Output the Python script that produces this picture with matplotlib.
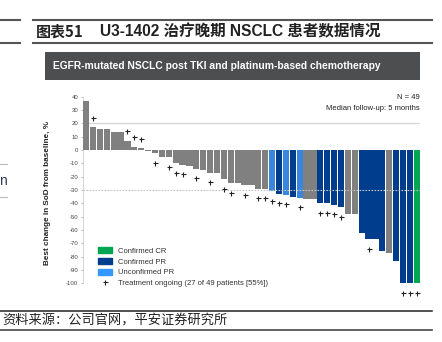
import matplotlib
matplotlib.use("Agg")
import matplotlib.pyplot as plt
from matplotlib.lines import Line2D
from matplotlib.patches import Patch, Rectangle

plt.rcParams.update({
    "font.family": ["Liberation Sans", "Noto Sans CJK SC", "DejaVu Sans"],
    "axes.unicode_minus": False,
})

# Best change in sum of diameters (%) per patient, sorted
best_change = [37, 17, 15.5, 15.5, 13.5, 13.5, 7, 2.5, 1.5, -1,
               -2.5, -5.5, -5.5, -10, -11, -12, -14, -15, -17, -17,
               -22, -25, -25, -26.5, -26.5, -29, -29, -31, -33, -33.5,
               -35, -36, -36.5, -36.5, -40, -40, -41, -43, -48, -48,
               -62, -67, -67, -76, -77, -83, -100, -100, -100]
# G = no confirmed response, PR = confirmed PR, UPR = unconfirmed PR, CR = confirmed CR
response = ["G"] * 27 + ["UPR", "PR", "UPR", "PR", "UPR", "G", "G",
            "PR", "PR", "PR", "PR", "G", "G", "PR", "PR", "PR", "PR", "G",
            "PR", "PR", "PR", "CR"]
# 1-based patient positions still on treatment
ongoing = [2, 7, 8, 9, 11, 13, 14, 15, 17, 19, 21, 22, 24, 26, 27, 28,
           29, 30, 32, 35, 36, 37, 38, 42, 47, 48, 49]
yticks = list(range(40, -101, -10))

COLORS = {"G": "#808080", "PR": "#003d8c", "UPR": "#3a86dc", "CR": "#00a651"}
INK = "#222222"

fig = plt.figure(figsize=(4.42, 3.42), dpi=100)
W, H = 442, 342


def fx(px):
    return px / W


def fy(py):
    return 1 - py / H


# header band
for y in (20, 43):
    fig.add_artist(Line2D([fx(33), fx(432)], [fy(y), fy(y)], color="#555555", lw=1.5))
    fig.add_artist(Line2D([0, fx(20)], [fy(y), fy(y)], color="#555555", lw=1.5))
fig.text(fx(36), fy(31.5), "图表51", fontsize=10.8, fontweight="bold", color=INK,
         family=["Noto Sans CJK SC", "DejaVu Sans"], va="center")
fig.text(fx(100), fy(31.5), "U3-1402 治疗晚期 NSCLC 患者数据情况", fontsize=11.2,
         fontweight="bold", color=INK, family=["Liberation Sans", "Noto Sans CJK SC"],
         va="center")

# stubs from the neighbouring column
for y in (164, 197):
    fig.add_artist(Line2D([0, fx(7)], [fy(y), fy(y)], color="#bbbbbb", lw=0.8))
fig.text(fx(-1), fy(181), "n", fontsize=10, color="#2f3a4f", va="center")

# chart title box
fig.add_artist(Rectangle((fx(45), fy(80)), fx(375), (80 - 52) / H,
                         color="#4d4e50", lw=0))
fig.text(fx(53), fy(66), "EGFR-mutated NSCLC post TKI and platinum-based chemotherapy",
         fontsize=7.4, fontweight="bold", color="white", va="center")

# main axes
ax = fig.add_axes([fx(82.7), fy(299.3), fx(337.5), (299.3 - 94) / H])
n = len(best_change)
xs = list(range(n))
ax.bar(xs, best_change, width=0.9, color=[COLORS[r] for r in response], lw=0, zorder=3)

ax.axhline(20, color="#d6d6d6", lw=0.9, zorder=1)
ax.axhline(-30, color="#c4c4c4", lw=0.8, ls=(0, (1.5, 1.2)), zorder=4)

for i in ongoing:
    v = best_change[i - 1]
    y = v + 7 if v > 0 else v - 7
    ax.plot(i - 1, y, "+", color=INK, ms=3.6, mew=0.8, zorder=5)

ax.set_xlim(-0.5, n - 0.5)
ax.set_ylim(-112, 42)
ax.set_xticks([])
ax.set_yticks(yticks)
ax.set_yticklabels([str(t) for t in yticks], fontsize=4.3, color="#444444")
ax.tick_params(axis="y", length=1.8, width=0.5, color="#aaaaaa", pad=1.5)
for s in ("top", "right", "bottom"):
    ax.spines[s].set_visible(False)
ax.spines["left"].set_bounds(-100, 40)
ax.spines["left"].set_color("#cccccc")
ax.spines["left"].set_linewidth(0.6)
ax.set_ylabel("Best change in SoD from baseline, %", fontsize=5.9, fontweight="bold",
              color=INK, labelpad=4)
ax.yaxis.set_label_coords(-0.093, 0.52)

fig.text(fx(420), fy(98), "N = 49", fontsize=5.5, color=INK, ha="right", va="center")
fig.text(fx(420), fy(108), "Median follow-up: 5 months", fontsize=5.5, color=INK,
         ha="right", va="center")

handles = [
    Patch(color=COLORS["CR"], label="Confirmed CR"),
    Patch(color=COLORS["PR"], label="Confirmed PR"),
    Patch(color="#3399ff", label="Unconfirmed PR"),
    Line2D([], [], ls="none", marker="+", color=INK, ms=3.6, mew=0.8,
           label="Treatment ongoing (27 of 49 patients [55%])"),
]
ax.legend(handles=handles, loc="upper left", bbox_to_anchor=(fx(94), fy(243.5)),
          bbox_transform=fig.transFigure, frameon=False, fontsize=5.5,
          handlelength=1.9, handleheight=0.8, handletextpad=0.7, labelspacing=0.42,
          labelcolor="#333333", borderpad=0)

# source footer
fig.add_artist(Line2D([0, fx(432)], [fy(311), fy(311)], color="#222222", lw=1.1))
fig.add_artist(Line2D([0, fx(432)], [fy(330), fy(330)], color="#555555", lw=1.3))
fig.text(fx(2), fy(321), "资料来源：公司官网，平安证券研究所", fontsize=9.5, color=INK,
         family=["Noto Sans CJK SC", "DejaVu Sans"], va="center")

fig.savefig("out.png", dpi=100)
